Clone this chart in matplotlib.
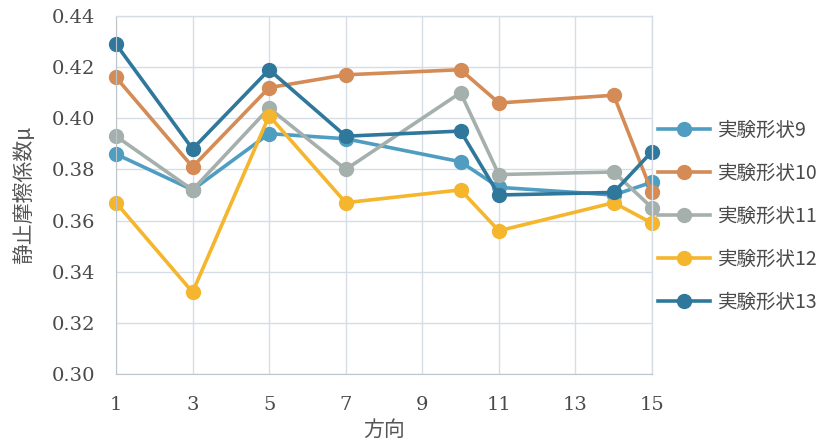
import matplotlib
matplotlib.use("Agg")
import matplotlib.pyplot as plt
from matplotlib.lines import Line2D

x_dirs = [1, 3, 5, 7, 10, 11, 14, 15]
series_names = ["実験形状9", "実験形状10", "実験形状11", "実験形状12", "実験形状13"]
shape9 = [0.386, 0.372, 0.394, 0.392, 0.383, 0.373, 0.370, 0.375]
shape10 = [0.416, 0.381, 0.412, 0.417, 0.419, 0.406, 0.409, 0.371]
shape11 = [0.393, 0.372, 0.404, 0.380, 0.410, 0.378, 0.379, 0.365]
shape12 = [0.367, 0.332, 0.401, 0.367, 0.372, 0.356, 0.367, 0.359]
shape13 = [0.429, 0.388, 0.419, 0.393, 0.395, 0.370, 0.371, 0.387]
x_ticks = [1, 3, 5, 7, 9, 11, 13, 15]
y_ticks = [0.30, 0.32, 0.34, 0.36, 0.38, 0.40, 0.42, 0.44]

colors = ["#4f9dc1", "#d48b55", "#a5b0ac", "#f5b52c", "#2f789c"]
data = [shape9, shape10, shape11, shape12, shape13]

fig = plt.figure(figsize=(8.37, 4.43), dpi=100)
ax = fig.add_axes([116/837, 1 - 374/443, (652-116)/837, (374-16)/443])

for vals, c, name in zip(data, colors, series_names):
    ax.plot(x_dirs, vals, color=c, lw=2.6, marker="o", ms=10, label=name,
            solid_capstyle="round", clip_on=False)

ax.set_xlim(1, 15)
ax.set_ylim(0.30, 0.44)
ax.set_xticks(x_ticks)
ax.set_yticks(y_ticks)
ax.set_xticklabels([str(t) for t in x_ticks])
ax.set_yticklabels([f"{t:.2f}" for t in y_ticks])
grid_c = "#d6dde7"
ax.grid(True, color=grid_c, lw=1.0)
ax.set_axisbelow(True)
for s in ["top", "right"]:
    ax.spines[s].set_color(grid_c)
    ax.spines[s].set_linewidth(1.0)
ax.spines["left"].set_color("#bcc4cc")
ax.spines["bottom"].set_color("#bcc4cc")
ax.tick_params(length=0, labelsize=14, labelcolor="#4a4a4a")
ax.tick_params(axis="y", pad=15)
ax.tick_params(axis="x", pad=16)
for lab in ax.get_xticklabels() + ax.get_yticklabels():
    lab.set_family("DejaVu Serif")

cjk = ["Noto Sans CJK JP", "DejaVu Sans"]
ax.set_xlabel("方向", fontsize=15, color="#555555", family=cjk)
ax.set_ylabel("静止摩擦係数μ", fontsize=15, color="#555555", family=cjk)
ax.xaxis.set_label_coords(0.5, -0.125)
ax.yaxis.set_label_coords(-0.15, 0.5)

handles = [Line2D([0], [0], color=c, lw=2.6, marker="o", ms=10) for c in colors]
leg = fig.legend(handles, series_names, loc="center left", bbox_to_anchor=(640/837, 1 - 216/443),
                 frameon=False, handlelength=2.7, handletextpad=0.4, labelspacing=1.13,
                 prop={"family": cjk, "size": 14})
for t in leg.get_texts():
    t.set_color("#4a4a4a")

fig.savefig("out.png", dpi=100)
